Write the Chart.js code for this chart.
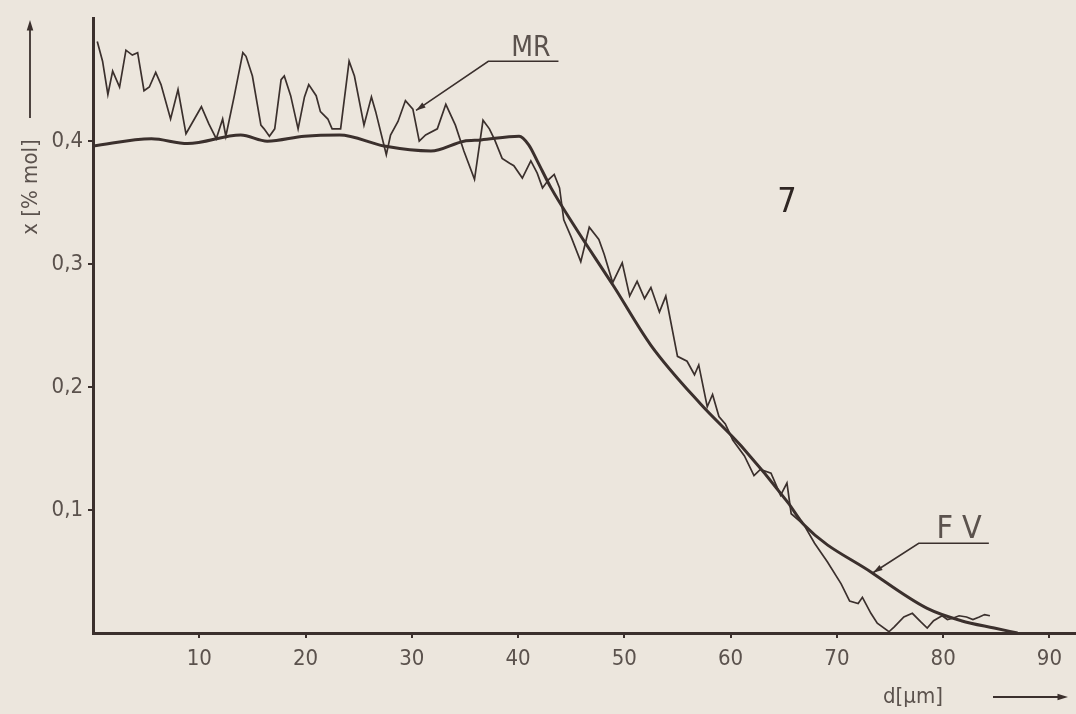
<!DOCTYPE html>
<html>
<head>
<meta charset="utf-8">
<title>MR / FV profile</title>
<script src="https://cdn.jsdelivr.net/npm/chart.js@4.4.1/dist/chart.umd.min.js"></script>
<style>
  html, body { margin: 0; padding: 0; background: #ece6dd; }
  canvas { display: block; }
</style>
</head>
<body>
<canvas id="profileChart" width="1076" height="714"></canvas>
<script>
// depth d [µm] and concentration x [% mol]
var mrDepth = [0.4, 0.9, 1.4, 1.85, 2.5, 3.1, 3.7, 4.2, 4.8, 5.3, 5.9, 6.4, 7.3, 8.0, 8.75,
  10.2, 10.9, 11.6, 12.2, 12.5, 13.3, 14.1, 14.4, 15.0, 15.8, 16.1, 16.6, 17.1, 17.7, 18.0,
  18.6, 19.3, 19.9, 20.3, 21.0, 21.4, 22.1, 22.5, 23.3, 24.1, 24.6, 25.5, 26.2, 26.6, 27.6,
  28.0, 28.7, 29.4, 30.1, 30.7, 31.3, 32.4, 33.2, 34.1, 34.9, 35.9, 36.7, 37.3, 37.8, 38.5,
  39.2, 39.6, 40.4, 41.2, 41.8, 42.3, 42.9, 43.4, 43.9, 44.3, 45.0, 45.9, 46.7, 47.6, 48.1,
  48.9, 49.8, 50.5, 51.2, 51.9, 52.5, 53.3, 53.9, 55.0, 55.9, 56.6, 57.0, 57.8, 58.3, 58.9,
  59.5, 60.2, 61.3, 62.2, 62.8, 63.8, 64.7, 65.3, 65.7, 66.9, 67.9, 69.1, 70.4, 71.2, 72.0,
  72.4, 73.2, 73.8, 74.9, 75.4, 76.3, 77.1, 77.9, 78.5, 79.1, 79.9, 80.4, 80.9, 81.5, 82.2,
  82.8, 83.4, 83.9, 84.4];
var mrValues = [0.481, 0.465, 0.438, 0.457, 0.444, 0.474, 0.470, 0.472, 0.441, 0.444, 0.456, 0.446, 0.418, 0.442, 0.406,
  0.428, 0.414, 0.402, 0.418, 0.404, 0.437, 0.472, 0.469, 0.453, 0.413, 0.410, 0.404, 0.410, 0.450, 0.453,
  0.437, 0.410, 0.436, 0.446, 0.437, 0.424, 0.418, 0.410, 0.410, 0.465, 0.453, 0.413, 0.436, 0.424, 0.389,
  0.405, 0.416, 0.433, 0.426, 0.400, 0.405, 0.410, 0.430, 0.413, 0.392, 0.369, 0.417, 0.410, 0.401, 0.386,
  0.382, 0.380, 0.370, 0.384, 0.374, 0.362, 0.369, 0.373, 0.362, 0.336, 0.322, 0.302, 0.330, 0.320, 0.308,
  0.285, 0.301, 0.274, 0.286, 0.272, 0.281, 0.261, 0.274, 0.225, 0.221, 0.210, 0.218, 0.184, 0.194, 0.176,
  0.170, 0.157, 0.144, 0.128, 0.133, 0.130, 0.112, 0.122, 0.097, 0.088, 0.073, 0.058, 0.040, 0.026, 0.024,
  0.029, 0.016, 0.008, 0.001, 0.005, 0.013, 0.016, 0.009, 0.004, 0.010, 0.014, 0.011, 0.012, 0.014, 0.013,
  0.011, 0.013, 0.015, 0.014];

var fvDepth = [0, 5.5, 8.9, 13.9, 16.4, 19.9, 23.2, 27.4, 31.8, 34.9, 36.5, 40.1, 41.0, 41.8, 43.1,
  45.3, 49.0, 52.5, 57.2, 61.0, 65.4, 66.9, 73.3, 78.5, 81.7, 84.8, 87.0];
var fvValues = [0.396, 0.402, 0.398, 0.405, 0.400, 0.404, 0.405, 0.396, 0.392, 0.400, 0.401, 0.404, 0.397, 0.384, 0.362,
  0.331, 0.282, 0.234, 0.186, 0.152, 0.106, 0.088, 0.049, 0.020, 0.010, 0.004, 0.000];

var xTicks = [10, 20, 30, 40, 50, 60, 70, 80, 90];
var yTicks = [0.1, 0.2, 0.3, 0.4];

var ink = '#3b302d';
var textInk = '#5b524d';
var fontFamily = "'Liberation Sans Narrow', 'DejaVu Sans Condensed', 'DejaVu Sans', sans-serif";

function toPoints(xs, ys) {
  return xs.map(function (x, i) { return { x: x, y: ys[i] }; });
}

function arrowHead(ctx, x1, y1, x2, y2, size) {
  var a = Math.atan2(y2 - y1, x2 - x1);
  ctx.beginPath();
  ctx.moveTo(x2, y2);
  ctx.lineTo(x2 - size * Math.cos(a - 0.3), y2 - size * Math.sin(a - 0.3));
  ctx.lineTo(x2 - size * Math.cos(a + 0.3), y2 - size * Math.sin(a + 0.3));
  ctx.closePath();
  ctx.fill();
}

var paperPlugin = {
  id: 'paper',
  beforeDraw: function (chart) {
    var ctx = chart.ctx;
    ctx.save();
    ctx.fillStyle = '#ece6dd';
    ctx.fillRect(0, 0, chart.width, chart.height);
    ctx.restore();
  },
  afterDraw: function (chart) {
    var ctx = chart.ctx;
    var xs = chart.scales.x, ys = chart.scales.y;
    ctx.save();
    ctx.strokeStyle = ink;
    ctx.fillStyle = ink;
    ctx.lineWidth = 1.6;

    // MR label with leader
    var tipX = xs.getPixelForValue(30.4), tipY = ys.getPixelForValue(0.425);
    var u0 = xs.getPixelForValue(37.2), u1 = xs.getPixelForValue(43.8), uy = ys.getPixelForValue(0.465);
    ctx.beginPath();
    ctx.moveTo(u1, uy); ctx.lineTo(u0, uy); ctx.lineTo(tipX, tipY);
    ctx.stroke();
    arrowHead(ctx, u0, uy, tipX, tipY, 10);
    ctx.fillStyle = textInk;
    ctx.font = '28px ' + fontFamily;
    ctx.textAlign = 'center';
    ctx.textBaseline = 'alphabetic';
    ctx.fillText('MR', xs.getPixelForValue(41.2), ys.getPixelForValue(0.469));

    // FV label with leader
    ctx.fillStyle = ink;
    tipX = xs.getPixelForValue(73.4); tipY = ys.getPixelForValue(0.049);
    u0 = xs.getPixelForValue(77.7); u1 = xs.getPixelForValue(84.3); uy = ys.getPixelForValue(0.073);
    ctx.beginPath();
    ctx.moveTo(u1, uy); ctx.lineTo(u0, uy); ctx.lineTo(tipX, tipY);
    ctx.stroke();
    arrowHead(ctx, u0, uy, tipX, tipY, 10);
    ctx.fillStyle = textInk;
    ctx.font = '32px ' + fontFamily;
    ctx.fillText('F V', xs.getPixelForValue(81.5), ys.getPixelForValue(0.077));

    // curve number
    ctx.fillStyle = '#2f2623';
    ctx.font = '34px ' + fontFamily;
    ctx.fillText('7', xs.getPixelForValue(65.3), ys.getPixelForValue(0.342));

    // x axis title + arrow
    ctx.fillStyle = textInk;
    ctx.font = '22px ' + fontFamily;
    ctx.fillText('d[µm]', 913, 703);
    ctx.strokeStyle = ink;
    ctx.fillStyle = ink;
    ctx.lineWidth = 1.8;
    ctx.beginPath(); ctx.moveTo(993, 697); ctx.lineTo(1060, 697); ctx.stroke();
    arrowHead(ctx, 993, 697, 1068, 697, 11);

    // y axis title + arrow
    ctx.save();
    ctx.translate(37, 187);
    ctx.rotate(-Math.PI / 2);
    ctx.fillStyle = textInk;
    ctx.font = '22px ' + fontFamily;
    ctx.fillText('x [% mol]', 0, 0);
    ctx.restore();
    ctx.beginPath(); ctx.moveTo(30, 118); ctx.lineTo(30, 28); ctx.stroke();
    arrowHead(ctx, 30, 118, 30, 20, 11);
    ctx.restore();
  }
};

var ctx1 = document.getElementById('profileChart').getContext('2d');
var profileChart = new Chart(ctx1, {
  type: 'line',
  data: {
    datasets: [{
      label: 'MR',
      data: toPoints(mrDepth, mrValues),
      borderColor: ink,
      borderWidth: 1.7,
      pointRadius: 0,
      tension: 0,
      fill: false
    }, {
      label: 'FV',
      data: toPoints(fvDepth, fvValues),
      borderColor: ink,
      borderWidth: 3,
      pointRadius: 0,
      tension: 0.4,
      cubicInterpolationMode: 'monotone',
      fill: false
    }]
  },
  options: {
    responsive: false,
    animation: false,
    layout: { padding: { top: 8, right: 0, left: 0, bottom: 0 } },
    plugins: {
      legend: { display: false },
      tooltip: { enabled: false }
    },
    scales: {
      x: {
        type: 'linear',
        min: 0,
        max: 92.5,
        afterFit: function (scale) { scale.height = 81; },
        afterBuildTicks: function (scale) {
          scale.ticks = xTicks.map(function (v) { return { value: v }; });
        },
        border: { color: ink, width: 3 },
        grid: { drawOnChartArea: false, drawTicks: true, tickLength: 5, color: ink, lineWidth: 2 },
        ticks: {
          color: textInk,
          padding: 8,
          maxRotation: 0,
          font: { family: fontFamily, size: 22 },
          callback: function (v) { return String(v); }
        }
      },
      y: {
        type: 'linear',
        min: 0,
        max: 0.5,
        afterFit: function (scale) { scale.width = 93; },
        afterBuildTicks: function (scale) {
          scale.ticks = yTicks.map(function (v) { return { value: v }; });
        },
        border: { color: ink, width: 3 },
        grid: { drawOnChartArea: false, drawTicks: true, tickLength: 5, color: ink, lineWidth: 2 },
        ticks: {
          color: textInk,
          padding: 5,
          font: { family: fontFamily, size: 22 },
          callback: function (v) { return v.toFixed(1).replace('.', ','); }
        }
      }
    }
  },
  plugins: [paperPlugin]
});
</script>
</body>
</html>
